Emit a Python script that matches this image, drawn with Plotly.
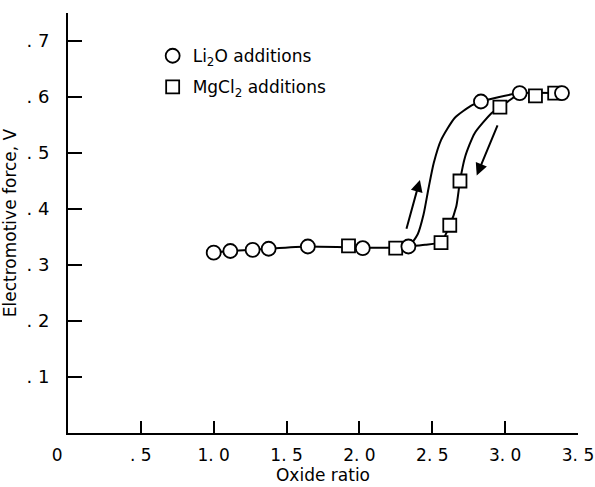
import plotly.graph_objects as go

# Measured data points
li2o_x = [1.00, 1.114, 1.267, 1.377, 1.646, 2.023, 2.336, 2.834, 3.10, 3.39]
li2o_y = [0.322, 0.325, 0.327, 0.329, 0.333, 0.330, 0.333, 0.592, 0.607, 0.607]

mgcl2_x = [1.925, 2.249, 2.56, 2.62, 2.69, 2.964, 3.208, 3.34]
mgcl2_y = [0.334, 0.330, 0.340, 0.371, 0.450, 0.582, 0.602, 0.607]

# Hand-drawn fitted curves
up_curve_x = [1.00, 1.114, 1.267, 1.377, 1.646, 2.023, 2.336, 2.40, 2.44, 2.475, 2.51, 2.56, 2.655, 2.77, 2.834, 3.10, 3.39]
up_curve_y = [0.322, 0.325, 0.327, 0.329, 0.333, 0.331, 0.334, 0.355, 0.390, 0.438, 0.482, 0.523, 0.563, 0.585, 0.592, 0.607, 0.607]

down_curve_x = [3.10, 2.964, 2.906, 2.79, 2.725, 2.69, 2.665, 2.62, 2.56, 2.45, 2.336]
down_curve_y = [0.607, 0.582, 0.571, 0.535, 0.493, 0.450, 0.405, 0.371, 0.341, 0.336, 0.333]

x_ticks = [0, 0.5, 1.0, 1.5, 2.0, 2.5, 3.0, 3.5]
x_ticktext = ["0\u00a0\u00a0\u00a0\u00a0", ". 5", "1. 0", "1. 5", "2. 0", "2. 5", "3. 0", "3. 5"]
y_ticks = [0.1, 0.2, 0.3, 0.4, 0.5, 0.6, 0.7]
y_ticktext = [". 1", ". 2", ". 3", ". 4", ". 5", ". 6", ". 7"]

FONT = "DejaVu Sans, sans-serif"

fig = go.Figure()

fig.add_trace(go.Scatter(x=up_curve_x, y=up_curve_y, mode="lines",
                         line=dict(color="black", width=2, shape="spline", smoothing=0.6),
                         showlegend=False, hoverinfo="skip"))
fig.add_trace(go.Scatter(x=down_curve_x, y=down_curve_y, mode="lines",
                         line=dict(color="black", width=2, shape="spline", smoothing=0.6),
                         showlegend=False, hoverinfo="skip"))

fig.add_trace(go.Scatter(x=mgcl2_x, y=mgcl2_y, mode="markers", name="MgCl<sub>2</sub> additions",
                         legendgroup="b", legendrank=2,
                         marker=dict(symbol="square", size=13, color="white",
                                     line=dict(color="black", width=1.8))))
fig.add_trace(go.Scatter(x=li2o_x, y=li2o_y, mode="markers", name="Li<sub>2</sub>O additions",
                         legendgroup="a", legendrank=1,
                         marker=dict(symbol="circle", size=14, color="white",
                                     line=dict(color="black", width=1.8))))

# direction arrows
fig.add_annotation(x=2.415, y=0.452, ax=2.32, ay=0.362, xref="x", yref="y", axref="x", ayref="y",
                   text="", showarrow=True, arrowhead=2, arrowsize=1.2, arrowwidth=2, arrowcolor="black")
fig.add_annotation(x=2.805, y=0.460, ax=2.952, ay=0.552, xref="x", yref="y", axref="x", ayref="y",
                   text="", showarrow=True, arrowhead=2, arrowsize=1.2, arrowwidth=2, arrowcolor="black")

fig.update_layout(
    width=595, height=487,
    margin=dict(l=68, r=17, t=13, b=54),
    paper_bgcolor="white", plot_bgcolor="white",
    font=dict(family=FONT, size=17, color="black"),
    legend=dict(x=0.166, y=0.94, xanchor="left", yanchor="top", tracegroupgap=6,
                bgcolor="rgba(0,0,0,0)", font=dict(size=17, family=FONT)),
    xaxis=dict(range=[0, 3.5], tickvals=x_ticks, ticktext=x_ticktext, ticks="inside", ticklen=12,
               tickwidth=2, tickcolor="black", showline=True, linecolor="black", linewidth=2,
               showgrid=False, zeroline=False, ticklabelstandoff=6, automargin=False,
               ticklabeloverflow="allow",
               tickfont=dict(family=FONT, size=17),
               title=dict(text="Oxide ratio", font=dict(size=17, family=FONT), standoff=2)),
    yaxis=dict(range=[0, 0.75], tickvals=y_ticks, ticktext=y_ticktext, ticks="inside", ticklen=14,
               tickwidth=2, tickcolor="black", showline=True, linecolor="black", linewidth=2,
               showgrid=False, zeroline=False, ticklabelstandoff=13, automargin=False,
               tickfont=dict(family=FONT, size=18),
               title=dict(text="Electromotive force, V", font=dict(size=17, family=FONT), standoff=9)),
)

fig.write_html("out.html", config={"displayModeBar": False},
               post_script="document.body.style.margin='0';")
